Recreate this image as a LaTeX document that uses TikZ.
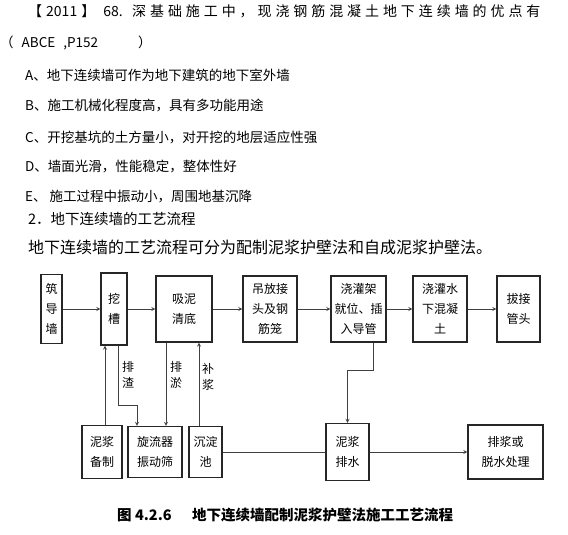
\documentclass[tikz,border=0pt]{standalone}
\usepackage{fontspec}
\setmainfont{Noto Sans CJK SC}
\begin{document}
\begin{tikzpicture}[>=stealth, x=1pt, y=-1pt,
    txt/.style={anchor=west, inner sep=0, font=\fontsize{13.5}{16}\selectfont},
    caja/.style={draw=black!85, line width=1.2pt, inner sep=0, align=center, font=\fontsize{12}{20}\selectfont},
    linea/.style={draw=black!75, line width=0.8pt},
    flecha/.style={linea, ->},
    etiq/.style={inner sep=0, align=center, font=\fontsize{12}{16}\selectfont}]
\useasboundingbox (0,0) rectangle (568,535);

% Enunciado
\node[txt, font=\fontsize{14}{16}\selectfont] (l1) at (28,11) {\makebox[104pt][l]{【\hspace{4pt}2011\hspace{4pt}】\hspace{8pt}68.}{\addfontfeature{LetterSpace=28}深基础施工中，现浇钢筋混凝土地下连续墙的优点有}};
\node[txt] (l2) at (0,43) {（\hspace{8pt}ABCE\hspace{8pt},P152\hspace{40pt}）};
\node[txt] (l3) at (25,75) {A、地下连续墙可作为地下建筑的地下室外墙};
\node[txt] (l4) at (25,105) {B、施工机械化程度高，具有多功能用途};
\node[txt] (l5) at (25,137) {C、开挖基坑的土方量小，对开挖的地层适应性强};
\node[txt] (l6) at (25,167) {D、墙面光滑，性能稳定，整体性好};
\node[txt] (l7) at (25,197) {E、\hspace{3pt}施工过程中振动小，周围地基沉降};
\node[txt, font=\fontsize{14.5}{16}\selectfont] (l8) at (28,219) {2．地下连续墙的工艺流程};
\node[txt, font=\fontsize{16}{18}\selectfont] (l9) at (28,247) {地下连续墙的工艺流程可分为配制泥浆护壁法和自成泥浆护壁法。};

% Fila superior
\node[caja, minimum width=21pt, minimum height=69pt] (zhu) at (51.5,309) {筑\\导\\墙};
\node[caja, minimum width=26pt, minimum height=72pt] (wa) at (114,309) {挖\\槽};
\node[caja, minimum width=56pt, minimum height=66pt] (xini) at (184,309) {吸泥\\清底};
\node[caja, minimum width=54pt, minimum height=66pt] (diao) at (270,309) {吊放接\\头及钢\\筋笼};
\node[caja, minimum width=55pt, minimum height=66pt] (jiao) at (358.5,309) {浇灌架\\就位、插\\入导管};
\node[caja, minimum width=54pt, minimum height=66pt] (shui) at (440,309) {浇灌水\\下混凝\\土};
\node[caja, minimum width=43pt, minimum height=66pt] (ba) at (518.5,309) {拔接\\管头};

% Fila inferior
\node[caja, minimum width=40pt, minimum height=53pt] (beizhi) at (102,452) {泥浆\\备制};
\node[caja, minimum width=54pt, minimum height=51pt] (xuanliu) at (155,452) {旋流器\\振动筛};
\node[caja, minimum width=33pt, minimum height=51pt] (chendian) at (205.5,452) {沉淀\\池};
\node[caja, minimum width=43pt, minimum height=57pt] (paishui) at (347.5,452) {泥浆\\排水};
\node[caja, minimum width=75pt, minimum height=54pt] (chuli) at (505.5,452) {排浆或\\脱水处理};

% Etiquetas
\node[etiq] (pz) at (128,375) {排\\渣};
\node[etiq] (py) at (176,375) {排\\淤};
\node[etiq] (bj) at (208,377) {补\\浆};

% Flechas
\draw[flecha] (zhu) -- (wa);
\draw[flecha] (wa) -- (xini);
\draw[flecha] (xini) -- (diao);
\draw[flecha] (diao) -- (jiao);
\draw[flecha] (jiao) -- (shui);
\draw[flecha] (shui) -- (ba);
\draw[flecha] ([xshift=3pt]beizhi.north) -- ([xshift=-9pt]wa.south);
\draw[flecha] ([xshift=4pt]wa.south) -- ++(0,60) -| ([xshift=-18pt]xuanliu.north);
\draw[flecha] ([xshift=-18pt]xini.south) -- ([xshift=11pt]xuanliu.north);
\draw[flecha] ([xshift=-6.5pt]chendian.north) -- ([xshift=15pt]xini.south);
\draw[linea] (chendian) -- (paishui);
\draw[flecha] ([xshift=14.5pt]jiao.south) -- ++(0,28) -| (paishui.north);
\draw[flecha] (paishui) -- (chuli);

% Titulo
\node[anchor=west, inner sep=0, font=\fontsize{14.5}{18}\selectfont\bfseries] (tit) at (117,515) {\makebox[75pt][l]{图 4.2.6}地下连续墙配制泥浆护壁法施工工艺流程};
\end{tikzpicture}
\end{document}
